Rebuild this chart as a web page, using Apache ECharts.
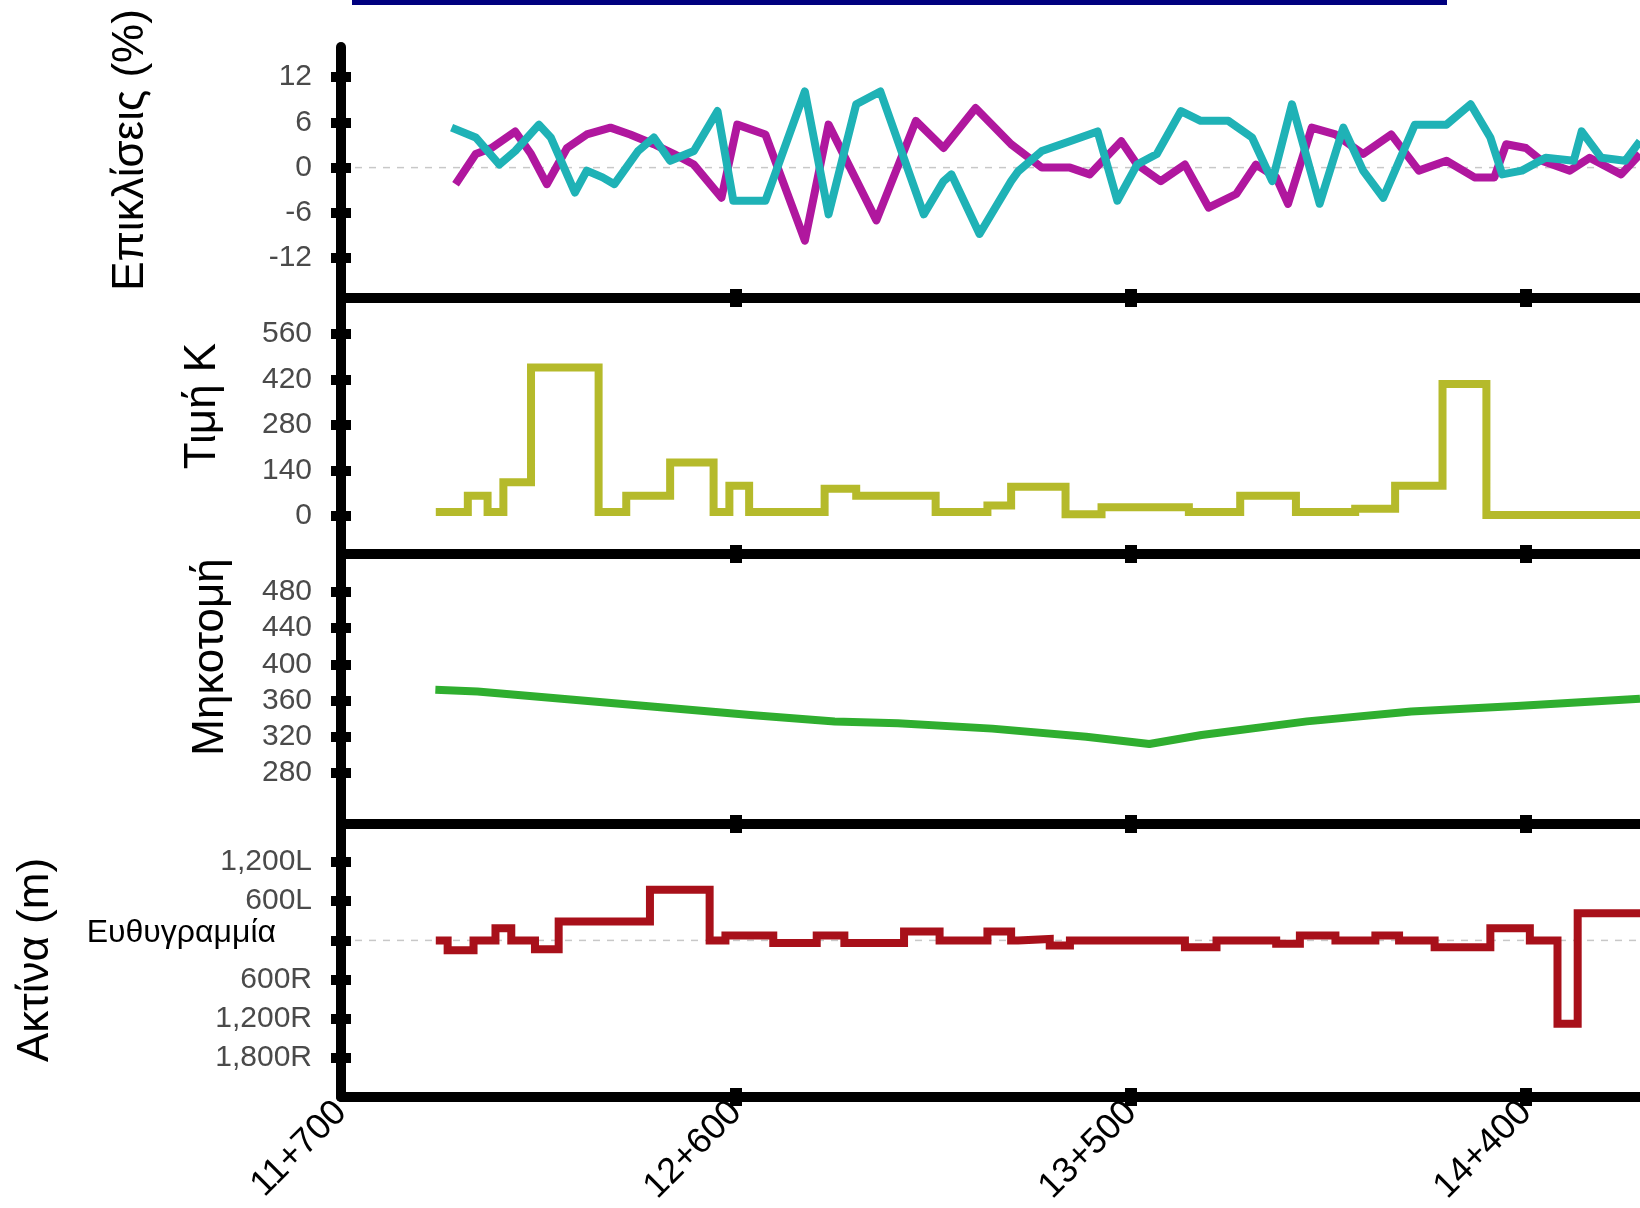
<!DOCTYPE html>
<html><head><meta charset="utf-8">
<script src="https://cdn.jsdelivr.net/npm/echarts@6/dist/echarts.min.js"></script>
<style>html,body{margin:0;padding:0;background:#fff}#c{width:1640px;height:1208px}</style>
</head><body><div id="c"></div>
<script>
// ---------- DATA ----------
const chainageMin = 11700;
const chainageMax = 14660;
const chainageLabelTicks = [11700, 12600, 13500, 14400];
const chainageTickMarks = [12600, 13500, 14400];

const cantTicks = [-12, -6, 0, 6, 12];
const kTicks = [0, 140, 280, 420, 560];
const profileTicks = [280, 320, 360, 400, 440, 480];
const radiusTicks = [-1800, -1200, -600, 0, 600, 1200];

// Επικλίσεις (%) – two rails
const cantMagenta = [
  [11961,-2.2],[12007,1.8],[12043,2.6],[12097,4.8],[12133,1.8],[12169,-2.2],[12215,2.6],[12260,4.4],
  [12314,5.3],[12359,4.4],[12413,3.1],[12459,1.8],[12504,0.4],[12567,-4.0],[12603,5.7],[12667,4.4],
  [12757,-9.7],[12811,5.7],[12920,-7.0],[13010,6.2],[13073,2.6],[13146,7.9],[13227,3.1],[13297,0],
  [13361,0],[13406,-0.9],[13478,3.5],[13514,0.4],[13568,-1.8],[13623,0.4],[13677,-5.3],[13740,-3.5],
  [13785,0.4],[13831,-1.3],[13858,-4.8],[13912,5.3],[13966,4.4],[14029,1.8],[14093,4.4],[14156,-0.4],
  [14219,0.9],[14283,-1.3],[14328,-1.3],[14355,3.1],[14400,2.6],[14436,0.9],[14500,-0.4],[14545,1.3],
  [14617,-0.9],[14660,1.8]
];
const cantCyan = [
  [11952,5.3],[12007,4.0],[12061,0.4],[12097,2.2],[12151,5.7],[12178,4.0],[12233,-3.3],[12260,-0.4],
  [12296,-1.3],[12323,-2.2],[12377,2.2],[12413,4.0],[12450,0.9],[12504,2.2],[12558,7.5],[12594,-4.4],
  [12667,-4.4],[12757,10.1],[12811,-6.2],[12874,8.4],[12929,10.1],[13028,-6.2],[13073,-1.8],[13091,-0.9],
  [13155,-8.8],[13227,-1.8],[13243,-0.5],[13297,2.2],[13361,3.5],[13424,4.8],[13469,-4.4],[13514,0.4],
  [13559,1.8],[13614,7.5],[13659,6.2],[13722,6.2],[13776,4.0],[13822,-1.8],[13867,8.4],[13930,-4.8],
  [13984,5.3],[14029,-0.4],[14075,-4.0],[14147,5.7],[14219,5.7],[14274,8.4],[14319,4.0],[14346,-0.9],
  [14391,-0.4],[14445,1.3],[14509,0.9],[14527,4.8],[14572,1.3],[14626,0.9],[14660,3.5]
];
// Τιμή K – step values (segment start chainage, value)
const kValue = [
  [11916,12],[11989,62],[12034,12],[12070,104],[12133,457],[12287,12],[12350,62],[12450,165],
  [12549,12],[12585,93],[12630,12],[12802,84],[12874,62],[13055,12],[13173,32],[13227,90],
  [13351,5],[13433,27],[13632,12],[13749,62],[13876,12],[14011,22],[14102,93],[14210,406],
  [14310,3],[14660,3]
];
// Μηκοτομή – longitudinal profile
const profile = [
  [11915,372],[12011,370],[12203,362],[12441,352],[12633,344],[12825,337],[12969,335],[13184,329],
  [13398,320],[13542,312],[13661,322],[13901,337],[14139,348],[14379,354],[14660,362]
];
// Ακτίνα (m) – signed radius (L positive, R negative), steps
const radius = [
  [11916,0],[11943,-150],[12002,0],[12052,187],[12088,0],[12142,-137],[12196,289],[12404,775],
  [12540,0],[12576,76],[12685,-40],[12784,76],[12847,-40],[12983,137],[13064,0],[13173,137],
  [13227,0],[13243,23],[13315,-76],[13361,0],[13623,-106],[13695,0],[13831,-50],[13885,76],
  [13966,0],[14057,76],[14111,0],[14192,-106],[14319,187],[14409,0],[14472,-1276],[14518,415],
  [14660,415]
];
const titles = ['Επικλίσεις (%)', 'Τιμή K', 'Μηκοτομή', 'Ακτίνα (m)'];
const straightLabel = 'Ευθυγραμμία';

// ---------- LAYOUT ----------
const L = 341, W = 1640 - 341;
const grids = [
  {top: 47,  height: 251, min: -17.3, max: 16.0},
  {top: 298, height: 256, min: -117,  max: 671},
  {top: 554, height: 270, min: 223.6, max: 522},
  {top: 824, height: 273, min: -2397, max: 1782}
];
const yTickSets = [cantTicks, kTicks, profileTicks, radiusTicks];

const tickFont = {fontFamily: '"Liberation Sans Narrow","Arial Narrow","Liberation Sans",sans-serif', fontSize: 30, color: '#4a4a4a'};

function fmtThousands(v){ return String(v).replace(/\B(?=(\d{3})+(?!\d))/g, ','); }
function chainFmt(v){ const k = Math.floor(v/1000), m = Math.round(v - k*1000); return k + '+' + String(m).padStart(3,'0'); }
function radiusFmt(v){
  if (v === 0) return '{s|' + straightLabel + '}';
  return v > 0 ? fmtThousands(v) + 'L' : fmtThousands(-v) + 'R';
}
const yFormatters = [null, null, null, radiusFmt];

const xAxes = [], yAxes = [];
grids.forEach((g, i) => {
  xAxes.push({
    type: 'value', gridIndex: i, position: 'bottom', min: chainageMin, max: chainageMax, z: 5,
    axisLine: {show: true, onZero: false, lineStyle: {color: '#000', width: 10}},
    axisTick: {show: true, customValues: chainageTickMarks, length: 9, lineStyle: {color: '#000', width: 12}},
    axisLabel: {show: i === 3, customValues: chainageLabelTicks, rotate: 45, margin: 10, formatter: chainFmt,
      fontFamily: '"Liberation Sans",Arial,sans-serif', fontSize: 36, color: '#000'},
    splitLine: {show: false}
  });
  yAxes.push({
    type: 'value', gridIndex: i, position: 'left', min: g.min, max: g.max, z: 5,
    axisLine: {show: true, onZero: false, lineStyle: {color: '#000', width: 10}},
    axisTick: {show: true, customValues: yTickSets[i], length: 10, lineStyle: {color: '#000', width: 10}},
    axisLabel: Object.assign({show: true, customValues: yTickSets[i], margin: 29,
      formatter: yFormatters[i] || undefined,
      rich: {s: {fontFamily: '"Liberation Sans",Arial,sans-serif', fontSize: 32, color: '#000', padding: [0, 36, 14, 0]}}
    }, tickFont),
    splitLine: {show: false}
  });
});
// duplicate axes for inward half of the square tick marks
grids.forEach((g, i) => {
  xAxes.push({
    type: 'value', gridIndex: i, position: 'bottom', min: chainageMin, max: chainageMax, z: 5,
    axisLine: {show: false, onZero: false},
    axisTick: {show: true, inside: true, customValues: chainageTickMarks, length: 9, lineStyle: {color: '#000', width: 12}},
    axisLabel: {show: false}, splitLine: {show: false}
  });
  yAxes.push({
    type: 'value', gridIndex: i, position: 'left', min: g.min, max: g.max, z: 5,
    axisLine: {show: false, onZero: false},
    axisTick: {show: true, inside: true, customValues: yTickSets[i], length: 10, lineStyle: {color: '#000', width: 10}},
    axisLabel: {show: false}, splitLine: {show: false}
  });
});

const zeroLine = [[chainageMin, 0], [chainageMax, 0]];
function lineSeries(idx, data, color, width, extra){
  return Object.assign({
    type: 'line', xAxisIndex: idx, yAxisIndex: idx, data: data, showSymbol: false, symbol: 'none',
    lineStyle: {color: color, width: width, cap: 'butt', join: 'miter'}, silent: true, z: 3, animation: false
  }, extra || {});
}
const dashed = {lineStyle: {color: '#c8c8c8', width: 1.5, type: [7, 7]}, z: 1};
const series = [
  lineSeries(0, zeroLine, '#c8c8c8', 1.5, dashed),
  lineSeries(3, zeroLine, '#c8c8c8', 1.5, dashed),
  lineSeries(0, cantMagenta, '#b0179e', 8, {lineStyle: {color: '#b0179e', width: 8, join: 'round'}}),
  lineSeries(0, cantCyan, '#1fb2b6', 8, {lineStyle: {color: '#1fb2b6', width: 8, join: 'round'}, z: 4}),
  lineSeries(1, kValue, '#b5ba2b', 8, {step: 'end'}),
  lineSeries(2, profile, '#2fae2f', 8, {lineStyle: {color: '#2fae2f', width: 8, join: 'round'}}),
  lineSeries(3, radius, '#a8101a', 8, {step: 'end'})
];

const titleFont = '44px "Liberation Sans", Arial, sans-serif';
const titlePos = [[131, 150], [203, 406], [211, 657], [36, 960]];
const graphic = titles.map((t, i) => ({
  type: 'text', x: titlePos[i][0], y: titlePos[i][1], rotation: Math.PI / 2, silent: true,
  style: {text: t, font: titleFont, fill: '#000', align: 'center', verticalAlign: 'middle'}
}));
graphic.push({type: 'rect', shape: {x: 352, y: 0, width: 1095, height: 5}, style: {fill: '#00007f'}, silent: true});

const chart = echarts.init(document.getElementById('c'), null, {renderer: 'canvas'});
chart.setOption({
  backgroundColor: '#fff',
  animation: false,
  grid: grids.map(g => ({left: L, top: g.top, width: W, height: g.height})),
  xAxis: xAxes,
  yAxis: yAxes,
  series: series,
  graphic: graphic
});
</script></body></html>
